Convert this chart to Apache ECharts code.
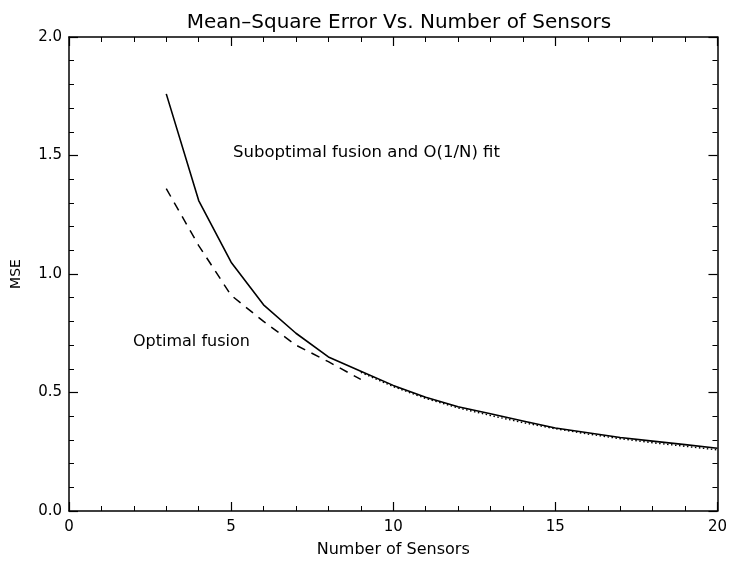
<!DOCTYPE html>
<html>
<head>
<meta charset="utf-8">
<script src="https://cdn.jsdelivr.net/npm/echarts@6/dist/echarts.min.js"></script>
<style>
  html, body { margin: 0; padding: 0; background: #fff; }
  #chart { width: 730px; height: 563px; }
</style>
</head>
<body>
<div id="chart"></div>
<script>
// data
var sensorsSub = [3, 4, 5, 6, 7, 8, 9, 10, 11, 12, 13, 14, 15, 16, 17, 18, 19, 20];
var mseSub = [1.76, 1.31, 1.05, 0.87, 0.75, 0.65, 0.59, 0.53, 0.48, 0.44, 0.41, 0.38, 0.35, 0.33, 0.31, 0.295, 0.28, 0.265];
var sensorsFit = [9, 10, 11, 12, 13, 14, 15, 16, 17, 18, 19, 20];
var mseFit = [0.585, 0.525, 0.475, 0.435, 0.403, 0.373, 0.347, 0.325, 0.305, 0.288, 0.273, 0.258];
var sensorsOpt = [3, 4, 5, 6, 7, 8, 9];
var mseOpt = [1.36, 1.12, 0.91, 0.80, 0.70, 0.63, 0.555];

function pairs(xs, ys) {
  return xs.map(function (x, i) { return [x, ys[i]]; });
}

var font = 'DejaVu Sans';
var chart = echarts.init(document.getElementById('chart'));

// axis style shared by the four sides of the box
function boxAxis(extra) {
  var a = {
    type: 'value',
    axisLine: { show: true, onZero: false, lineStyle: { color: '#000', width: 1.5 } },
    axisTick: { show: true, inside: true, length: 9, lineStyle: { color: '#000', width: 1.2 } },
    minorTick: { show: true, splitNumber: 5, length: 5, lineStyle: { color: '#000', width: 1 } },
    splitLine: { show: false },
    axisLabel: { show: false }
  };
  return Object.assign(a, extra);
}

var option = {
  backgroundColor: '#fff',
  animation: false,
  title: {
    text: 'Mean\u2013Square Error Vs. Number of Sensors',
    left: 394,
    top: 8,
    textAlign: 'center',
    textStyle: { fontFamily: font, fontSize: 20, fontWeight: 'normal', color: '#000' }
  },
  grid: { left: 69, right: 9, top: 37, bottom: 51 },
  xAxis: [
    boxAxis({
      min: 0, max: 20, interval: 5,
      name: 'Number of Sensors',
      nameLocation: 'middle',
      nameGap: 31,
      nameTextStyle: { fontFamily: font, fontSize: 16, color: '#000' },
      axisLabel: { show: true, fontFamily: font, fontSize: 15, color: '#000', margin: 9 }
    }),
    boxAxis({ min: 0, max: 20, interval: 5, position: 'top' })
  ],
  yAxis: [
    boxAxis({
      min: 0, max: 2, interval: 0.5,
      name: 'MSE',
      nameLocation: 'middle',
      nameGap: 46,
      nameTextStyle: { fontFamily: font, fontSize: 14, color: '#000' },
      axisLabel: {
        show: true, fontFamily: font, fontSize: 15, color: '#000', margin: 7,
        formatter: function (v) { return v.toFixed(1); }
      }
    }),
    boxAxis({ min: 0, max: 2, interval: 0.5, position: 'right' })
  ],
  series: [
    {
      name: 'Suboptimal fusion',
      type: 'line',
      data: pairs(sensorsSub, mseSub),
      showSymbol: false,
      lineStyle: { color: '#000', width: 1.6, type: 'solid' }
    },
    {
      name: 'O(1/N) fit',
      type: 'line',
      data: pairs(sensorsFit, mseFit),
      showSymbol: false,
      lineStyle: { color: '#000', width: 1.4, type: [1.5, 2.5] }
    },
    {
      name: 'Optimal fusion',
      type: 'line',
      data: pairs(sensorsOpt, mseOpt),
      showSymbol: false,
      lineStyle: { color: '#000', width: 1.5, type: [9, 7] }
    }
  ],
  graphic: [
    {
      type: 'text', left: 233, top: 144,
      style: { text: 'Suboptimal fusion and O(1/N) fit', fontFamily: font, fontSize: 16.5, fill: '#000' }
    },
    {
      type: 'text', left: 133, top: 334,
      style: { text: 'Optimal fusion', fontFamily: font, fontSize: 16, fill: '#000' }
    }
  ]
};

chart.setOption(option);
</script>
</body>
</html>
